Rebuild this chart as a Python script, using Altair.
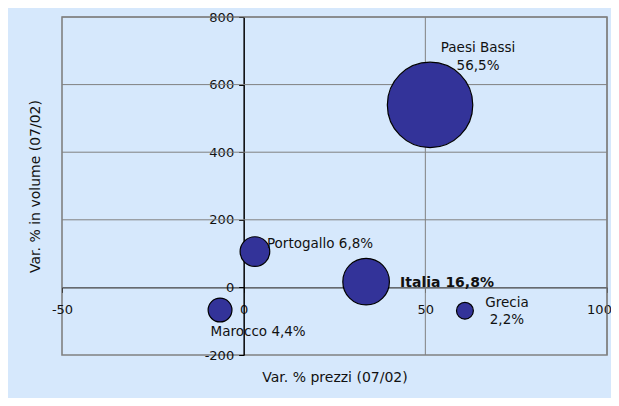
import altair as alt
import pandas as pd

# ---- data ----
countries = ["Paesi Bassi", "Italia", "Portogallo", "Marocco", "Grecia"]
price_var = [51.3, 33.7, 3.1, -6.5, 60.9]      # Var. % prezzi (07/02)
volume_var = [540, 17, 106, -67, -69]           # Var. % in volume (07/02)
share = [56.5, 16.8, 6.8, 4.4, 2.2]             # quota %

x_ticks = [-50, 0, 50, 100]
y_ticks = [-200, 0, 200, 400, 600, 800]
x_grid = [50, 100]
y_grid = [200, 400, 600, 800]

X_DOMAIN = [-50, 100]
Y_DOMAIN = [-200, 800]
W, H = 545, 338
BG = "#D6E8FC"
FONT = "DejaVu Sans"

two_line = {"Paesi Bassi", "Grecia"}


def fmt(c, s):
    p = f"{s:.1f}".replace(".", ",") + "%"
    return f"{c}\n{p}" if c in two_line else f"{c} {p}"


df = pd.DataFrame({
    "country": countries,
    "x": price_var,
    "y": volume_var,
    "share": share,
    "label": [fmt(c, s) for c, s in zip(countries, share)],
})

xs = alt.Scale(domain=X_DOMAIN, nice=False, zero=False)
ys = alt.Scale(domain=Y_DOMAIN, nice=False, zero=False)

x_off = -(0 - X_DOMAIN[0]) / (X_DOMAIN[1] - X_DOMAIN[0]) * W
y_off = -(0 - Y_DOMAIN[0]) / (Y_DOMAIN[1] - Y_DOMAIN[0]) * H

x_axis = alt.Axis(
    values=x_ticks, orient="bottom", offset=y_off, grid=False,
    labelExpr="'' + datum.value",
    labelFontSize=13, labelColor="#111", labelFont=FONT,
    labelFlush=False, labelOverlap=False, labelPadding=11, labelBound=False,
    labelOffset={"condition": {"test": f"datum.value == {X_DOMAIN[1]}", "value": -8},
                 "value": 0},
    tickSize=5, tickColor="#404040", domainColor="#404040", domainWidth=1.3,
    title="Var. % prezzi (07/02)", titleFont=FONT, titleFontSize=14,
    titleFontWeight="normal", titleColor="#111",
    titleX=W / 2, titleY=90, titleAlign="center", titleBaseline="middle",
)
y_axis = alt.Axis(
    values=y_ticks, orient="left", offset=x_off, grid=False,
    labelExpr="'' + datum.value",
    labelFontSize=13, labelColor="#111", labelFont=FONT,
    labelPadding=5, labelOverlap=False, labelBound=False,
    tickSize=5, tickColor="#000", domainColor="#000", domainWidth=1.5,
    title="Var. % in volume (07/02)", titleFont=FONT, titleFontSize=14,
    titleFontWeight="normal", titleColor="#111",
    titleX=-208, titleY=H / 2, titleAngle=-90, titleAlign="center",
    titleBaseline="middle",
)

gx = alt.Chart(pd.DataFrame({"v": x_grid})).mark_rule(
    color="#808080", strokeWidth=1
).encode(x=alt.X("v:Q", scale=xs, axis=x_axis))
gy = alt.Chart(pd.DataFrame({"v": y_grid})).mark_rule(
    color="#808080", strokeWidth=1
).encode(y=alt.Y("v:Q", scale=ys, axis=y_axis))

base = alt.Chart(df)

bubbles = base.mark_circle(
    color="#333399", opacity=1, stroke="#000", strokeWidth=1.2
).encode(
    x=alt.X("x:Q", scale=xs, axis=x_axis),
    y=alt.Y("y:Q", scale=ys, axis=y_axis),
    size=alt.Size("share:Q", scale=alt.Scale(domain=[0, max(share)], range=[0, 7300]),
                  legend=None),
)

label_opts = {
    "Paesi Bassi": dict(dx=48, dy=-53, align="center"),
    "Italia": dict(dx=34, dy=5, align="left", fontWeight="bold", fontSize=14),
    "Portogallo": dict(dx=12, dy=-3.5, align="left"),
    "Marocco": dict(dx=-9.5, dy=26, align="left"),
    "Grecia": dict(dx=42, dy=-4, align="center"),
}

labels = []
for c in countries:
    o = dict(fontSize=13.5, font=FONT, color="#111", baseline="alphabetic",
             lineBreak="\n", lineHeight=17.7)
    o.update(label_opts[c])
    labels.append(
        base.transform_filter(alt.datum.country == c).mark_text(**o).encode(
            x=alt.X("x:Q", scale=xs, axis=x_axis),
            y=alt.Y("y:Q", scale=ys, axis=y_axis),
            text="label:N",
        )
    )

chart = alt.layer(gx, gy, bubbles, *labels).properties(
    width=W, height=H,
    autosize=alt.AutoSizeParams(type="none"),
    padding={"left": 54, "top": 9, "right": 4, "bottom": 43},
    background=BG,
).configure_view(stroke="#808080", strokeWidth=1.6)

chart.save("out.html", embed_options={"renderer": "svg", "actions": False})
